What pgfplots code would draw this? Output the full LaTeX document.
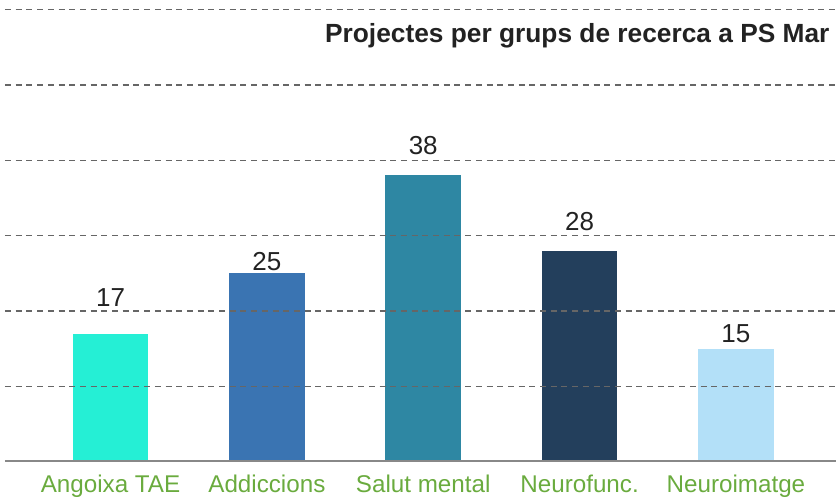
\documentclass[border=0pt]{standalone}
\usepackage{pgfplots}
\pgfplotsset{compat=1.18}
\usepackage{fontspec}
\setmainfont{Liberation Sans}
\definecolor{cA}{HTML}{25EFD5}
\definecolor{cB}{HTML}{3A74B2}
\definecolor{cC}{HTML}{2E87A3}
\definecolor{cD}{HTML}{233F5C}
\definecolor{cE}{HTML}{B3E0F8}
\definecolor{lab}{HTML}{6AAB3E}
\definecolor{gridc}{HTML}{666666}
\definecolor{basec}{HTML}{888888}
\definecolor{txt}{HTML}{222222}
\begin{document}
\begin{tikzpicture}
\path[use as bounding box] (0,0) rectangle (836pt,498pt);
\begin{axis}[
  at={(5pt,36.5pt)}, anchor=south west,
  scale only axis, width=831pt, height=461.5pt,
  xmin=-0.675, xmax=4.64, ymin=0, ymax=61.3,
  axis on top,
  axis x line=bottom, axis y line=left,
  y axis line style={draw=none},
  x axis line style={draw=basec, line width=2pt, -},
  xtick={0,1,2,3,4},
  xticklabels={Angoixa TAE, Addiccions, Salut mental, Neurofunc., Neuroimatge},
  xticklabel style={anchor=base, yshift=-31.5pt, text=lab, font=\fontsize{24.2}{28}\selectfont},
  ytick={10,20,30,40,50,60}, yticklabels={},
  major tick length=0pt,
  ymajorgrids,
  grid style={draw=gridc, line width=1.2pt, dash pattern=on 6pt off 4.7pt},
  clip=false,
]
\addplot[ybar, bar width=75.5pt, bar shift=0pt, fill=cA, draw=none] coordinates {(0,17)};
\addplot[ybar, bar width=75.5pt, bar shift=0pt, fill=cB, draw=none] coordinates {(1,25)};
\addplot[ybar, bar width=75.5pt, bar shift=0pt, fill=cC, draw=none] coordinates {(2,38)};
\addplot[ybar, bar width=75.5pt, bar shift=0pt, fill=cD, draw=none] coordinates {(3,28)};
\addplot[ybar, bar width=75.5pt, bar shift=0pt, fill=cE, draw=none] coordinates {(4,15)};
\begin{scope}[every node/.style={anchor=base, text=txt, font=\fontsize{26}{30}\selectfont}]
\node at (axis cs:0,20.65) {17};
\node at (axis cs:1,25.43) {25};
\node at (axis cs:2,40.84) {38};
\node at (axis cs:3,30.74) {28};
\node at (axis cs:4,15.74) {15};
\end{scope}
\end{axis}
\node[anchor=base east, text=txt, font=\bfseries\fontsize{26.3}{31}\selectfont] at (833pt,455pt) {Projectes per grups de recerca a PS Mar};
\end{tikzpicture}
\end{document}
